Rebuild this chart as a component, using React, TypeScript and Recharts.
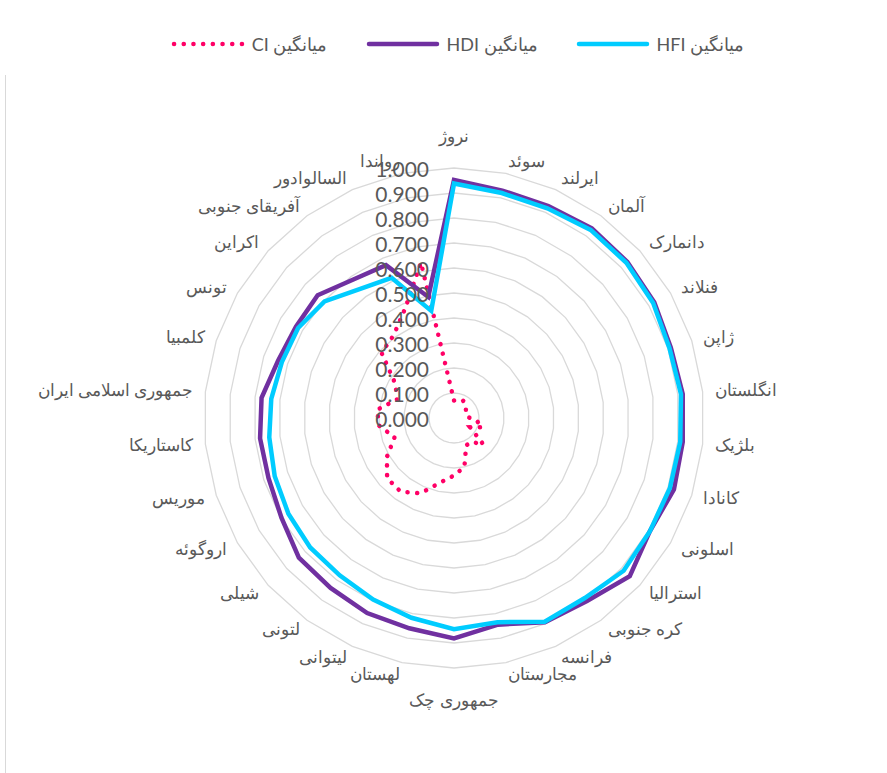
import {
  Legend,
  PolarAngleAxis,
  PolarGrid,
  PolarRadiusAxis,
  Radar,
  RadarChart,
} from "recharts";

const countries = [
  "نروژ",
  "سوئد",
  "ایرلند",
  "آلمان",
  "دانمارک",
  "فنلاند",
  "ژاپن",
  "انگلستان",
  "بلژیک",
  "کانادا",
  "اسلونی",
  "استرالیا",
  "کره جنوبی",
  "فرانسه",
  "مجارستان",
  "جمهوری چک",
  "لهستان",
  "لیتوانی",
  "لتونی",
  "شیلی",
  "اروگوئه",
  "موریس",
  "کاستاریکا",
  "جمهوری اسلامی ایران",
  "کلمبیا",
  "تونس",
  "اکراین",
  "آفریقای جنوبی",
  "السالوادور",
  "رواندا",
];

const ciValues = [
  0.07, 0.075, 0.08, 0.075, 0.064, 0.055, 0.05, 0.052, 0.09, 0.12, 0.075,
  0.158, 0.118, 0.12, 0.2, 0.23, 0.264, 0.33, 0.364, 0.36, 0.31, 0.25, 0.3,
  0.31, 0.24, 0.27, 0.39, 0.41, 0.48, 0.636,
];

const hdiValues = [
  0.952, 0.93, 0.928, 0.938, 0.933, 0.925, 0.912, 0.92, 0.92, 0.925, 0.905,
  0.946, 0.905, 0.894, 0.845, 0.882, 0.86, 0.854, 0.84, 0.835, 0.797, 0.78,
  0.78, 0.774, 0.74, 0.73, 0.734, 0.685, 0.669, 0.495,
];

const hfiValues = [
  0.938, 0.92, 0.918, 0.93, 0.928, 0.92, 0.906, 0.913, 0.91, 0.908, 0.905,
  0.913, 0.89, 0.892, 0.835, 0.845, 0.817, 0.795, 0.778, 0.774, 0.765, 0.754,
  0.743, 0.735, 0.724, 0.72, 0.697, 0.638, 0.614, 0.438,
];

const radiusTicks = [0, 0.1, 0.2, 0.3, 0.4, 0.5, 0.6, 0.7, 0.8, 0.9, 1];

const seriesNames = {
  ci: "میانگین CI",
  hdi: "میانگین HDI",
  hfi: "میانگین HFI",
};

const data = countries.map((name, i) => ({
  name,
  ci: ciValues[i],
  hdi: hdiValues[i],
  hfi: hfiValues[i],
}));

const CX = 454;
const CY = 418;
const R = 250;
const GREY = "#595959";

const AngleTick = (props: any) => {
  const { payload } = props;
  const a = (payload.coordinate * Math.PI) / 180;
  const c = Math.cos(a);
  const s = Math.sin(a);
  const x = CX + (R + 12) * c;
  let y = CY - (R + 12) * s;
  const anchor = c > 0.05 ? "start" : c < -0.05 ? "end" : "middle";
  if (anchor === "middle") y -= s * 20;
  return (
    <text
      x={x}
      y={y}
      textAnchor={anchor}
      dominantBaseline="central"
      fill={GREY}
      fontSize={17}
    >
      {payload.value}
    </text>
  );
};

const RadiusTick = (props: any) => {
  const { x, y, payload } = props;
  return (
    <text
      x={x - 25}
      y={y}
      textAnchor="end"
      dominantBaseline="central"
      fill={GREY}
      fontSize={21}
      fontFamily="Lato"
    >
      {Number(payload.value).toFixed(3)}
    </text>
  );
};

const LegendContent = (props: any) => {
  const { payload } = props;
  return (
    <div
      style={{
        display: "flex",
        justifyContent: "center",
        alignItems: "center",
        gap: 38,
        fontFamily: "Lato",
        fontSize: 18,
        color: GREY,
      }}
    >
      {payload.map((entry: any) => {
        const dotted = entry.dataKey === "ci";
        return (
          <div
            key={entry.value}
            style={{ display: "flex", alignItems: "center" }}
          >
            <svg width={74} height={10}>
              <line
                x1={3}
                y1={5}
                x2={71}
                y2={5}
                stroke={entry.color}
                strokeWidth={4.5}
                strokeDasharray={dotted ? "0.1 9.6" : undefined}
                strokeLinecap="round"
              />
            </svg>
            <span dir="rtl" style={{ marginLeft: 7 }}>
              {entry.value}
            </span>
          </div>
        );
      })}
    </div>
  );
};

export default function App() {
  return (
    <div
      style={{
        position: "fixed",
        left: 0,
        top: 0,
        width: 887,
        height: 773,
        background: "#fff",
      }}
    >
      <div
        style={{
          position: "absolute",
          left: 5,
          top: 75,
          bottom: 0,
          width: 1,
          background: "#d9d9d9",
        }}
      />
      <RadarChart
        width={887}
        height={773}
        data={data}
        cx={CX}
        cy={CY}
        outerRadius={R}
        startAngle={90}
        endAngle={-270}
        margin={{ top: 0, right: 0, bottom: 0, left: 0 }}
      >
        <PolarGrid
          gridType="polygon"
          radialLines={false}
          stroke="#d9d9d9"
          strokeWidth={1.3}
        />
        <PolarAngleAxis
          dataKey="name"
          tick={<AngleTick />}
          axisLine={false}
          tickLine={false}
        />
        <PolarRadiusAxis
          angle={90}
          domain={[0, 1]}
          ticks={radiusTicks as any}
          tick={<RadiusTick />}
          axisLine={false}
          tickLine={false}
        />
        <Radar
          name={seriesNames.ci}
          dataKey="ci"
          stroke="#ff0066"
          strokeWidth={4.5}
          strokeDasharray="0.1 9.6"
          strokeLinecap="round"
          fill="none"
          fillOpacity={0}
          dot={false}
          isAnimationActive={false}
        />
        <Radar
          name={seriesNames.hdi}
          dataKey="hdi"
          stroke="#7030a0"
          strokeWidth={4.5}
          fill="none"
          fillOpacity={0}
          dot={false}
          isAnimationActive={false}
        />
        <Radar
          name={seriesNames.hfi}
          dataKey="hfi"
          stroke="#00ccff"
          strokeWidth={4.5}
          fill="none"
          fillOpacity={0}
          dot={false}
          isAnimationActive={false}
        />
        <Legend
          verticalAlign="middle"
          content={<LegendContent />}
          wrapperStyle={{ top: 33, left: 14, width: 887 }}
        />
      </RadarChart>
    </div>
  );
}
